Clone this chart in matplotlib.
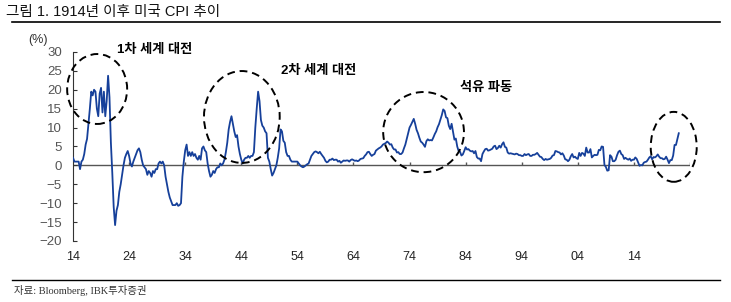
import numpy as np
import matplotlib
matplotlib.use("Agg")
import matplotlib.pyplot as plt
from matplotlib.patches import Ellipse

plt.rcParams['font.family'] = ['Liberation Sans', 'Noto Sans CJK KR']

# US CPI YoY (%), quarterly, starting 1914Q1
cpi_yoy = [
    2.0, 1.0, 1.0, 1.0,      # 1914
    1.0, -1.0, 1.0, 1.5,     # 1915
    3.0, 5.5, 7.0, 11.0,     # 1916
    15.0, 19.5, 18.5, 20.0,  # 1917
    19.5, 15.0, 13.0, 19.0,  # 1918
    20.5, 14.0, 19.5, 13.0,  # 1919
    17.0, 23.7, 18.0, 6.0,   # 1920
    -2.0, -11.0, -15.8, -12.0,  # 1921
    -10.5, -7.0, -5.0, -2.5,  # 1922
    0.0, 2.0, 3.0, 3.8,      # 1923
    2.5, 0.5, -0.3, 1.0,     # 1924
    2.0, 3.0, 4.0, 4.5,      # 1925
    3.5, 1.5, 0.0, -0.5,     # 1926
    -1.0, -2.5, -1.5, -2.0,  # 1927
    -3.0, -1.5, -2.0, -1.0,  # 1928
    -1.0, 0.5, 1.0, 0.5,     # 1929
    1.0, 0.0, -3.0, -5.0,    # 1930
    -7.0, -8.5, -9.5, -10.5,  # 1931
    -10.5, -10.5, -10.0, -10.7,  # 1932
    -10.5, -10.0, -3.0, 1.0,  # 1933
    4.0, 5.5, 2.5, 3.5,      # 1934
    2.5, 3.5, 2.5, 3.0,      # 1935
    2.0, 1.5, 2.5, 1.5,      # 1936
    4.5, 5.0, 4.0, 3.5,      # 1937
    0.5, -1.5, -3.0, -2.5,   # 1938
    -1.5, -2.0, -1.0, -0.5,  # 1939
    -0.5, 0.5, 0.0, 0.5,     # 1940
    1.5, 3.5, 6.0, 9.5,      # 1941
    11.5, 13.0, 11.0, 9.0,   # 1942
    7.5, 8.0, 5.0, 3.0,      # 1943
    1.5, 0.5, 1.5, 2.0,      # 1944
    2.0, 2.5, 2.0, 2.5,      # 1945
    2.5, 3.5, 10.0, 15.0,    # 1946
    19.5, 17.0, 12.0, 10.5,  # 1947
    10.0, 9.0, 8.5, 2.0,     # 1948
    1.0, -1.0, -2.7, -2.0,   # 1949
    -1.0, 0.0, 2.0, 4.5,     # 1950
    9.5, 9.0, 6.5, 6.0,      # 1951
    3.5, 2.5, 2.5, 1.5,      # 1952
    1.0, 1.0, 1.0, 1.0,      # 1953
    1.0, 0.5, 0.0, -0.3,     # 1954
    -0.5, -0.3, 0.0, 0.3,    # 1955
    0.5, 1.5, 2.5, 3.0,      # 1956
    3.5, 3.7, 3.5, 3.2,      # 1957
    3.6, 3.0, 2.5, 2.0,      # 1958
    1.2, 0.8, 1.0, 1.5,      # 1959
    1.5, 1.8, 1.4, 1.5,      # 1960
    1.5, 1.0, 1.2, 0.7,      # 1961
    1.0, 1.3, 1.2, 1.3,      # 1962
    1.3, 1.0, 1.4, 1.6,      # 1963
    1.4, 1.2, 1.3, 1.1,      # 1964
    1.3, 1.7, 1.8, 1.9,      # 1965
    2.5, 2.9, 3.5, 3.6,      # 1966
    3.0, 2.5, 2.8, 3.0,      # 1967
    3.9, 4.2, 4.5, 4.7,      # 1968
    5.0, 5.5, 5.7, 5.9,      # 1969
    6.3, 6.0, 5.5, 5.6,      # 1970
    4.7, 4.2, 4.2, 3.4,      # 1971
    3.5, 3.0, 3.0, 3.4,      # 1972
    4.5, 5.5, 7.0, 8.5,      # 1973
    10.0, 10.7, 11.5, 12.3,  # 1974
    11.0, 9.4, 8.5, 7.3,     # 1975
    6.3, 6.0, 5.5, 4.9,      # 1976
    6.4, 6.9, 6.6, 6.7,      # 1977
    6.6, 7.4, 8.3, 9.0,      # 1978
    10.1, 10.9, 12.1, 13.3,  # 1979
    14.8, 14.4, 12.7, 12.5,  # 1980
    10.5, 9.6, 11.0, 8.9,    # 1981
    6.8, 7.1, 5.0, 3.8,      # 1982
    3.6, 2.6, 2.9, 3.8,      # 1983
    4.8, 4.2, 4.3, 3.9,      # 1984
    3.7, 3.8, 3.2, 3.8,      # 1985
    2.2, 1.8, 1.8, 1.1,      # 1986
    3.0, 3.7, 4.3, 4.4,      # 1987
    3.9, 4.0, 4.2, 4.4,      # 1988
    5.0, 5.2, 4.3, 4.6,      # 1989
    5.2, 4.7, 5.6, 6.1,      # 1990
    4.9, 4.7, 3.4, 3.1,      # 1991
    3.2, 3.1, 3.0, 2.9,      # 1992
    3.1, 3.0, 2.7, 2.7,      # 1993
    2.5, 2.5, 3.0, 2.7,      # 1994
    2.9, 3.0, 2.5, 2.5,      # 1995
    2.8, 2.8, 3.0, 3.3,      # 1996
    2.8, 2.3, 2.2, 1.7,      # 1997
    1.4, 1.7, 1.5, 1.6,      # 1998
    1.7, 2.0, 2.6, 2.7,      # 1999
    3.8, 3.7, 3.5, 3.4,      # 2000
    2.9, 3.2, 2.6, 1.6,      # 2001
    1.5, 1.1, 1.5, 2.4,      # 2002
    3.0, 2.1, 2.3, 1.9,      # 2003
    1.7, 3.3, 2.5, 3.3,      # 2004
    3.1, 2.5, 4.7, 3.4,      # 2005
    3.4, 4.3, 2.1, 2.5,      # 2006
    2.8, 2.7, 2.8, 4.1,      # 2007
    4.0, 5.0, 4.9, 0.1,      # 2008
    -0.4, -1.4, -1.3, 2.7,   # 2009
    2.3, 1.1, 1.1, 1.5,      # 2010
    2.7, 3.6, 3.9, 3.0,      # 2011
    2.7, 1.7, 2.0, 1.7,      # 2012
    1.5, 1.8, 1.2, 1.5,      # 2013
    1.5, 2.1, 1.7, 0.8,      # 2014
    -0.1, 0.1, 0.0, 0.7,     # 2015
    0.9, 1.0, 1.5, 2.1,      # 2016
    2.4, 1.6, 2.2, 2.1,      # 2017
    2.4, 2.9, 2.3, 1.9,      # 2018
    1.9, 1.6, 1.7, 2.3,      # 2019
    1.5, 0.6, 1.4, 1.4,      # 2020
    2.6, 5.4, 5.4, 7.0,      # 2021
    8.5,                     # 2022
]
start_year = 1914
tick_years = [1914, 1924, 1934, 1944, 1954, 1964, 1974, 1984, 1994, 2004, 2014]
tick_labels = ['14', '24', '34', '44', '54', '64', '74', '84', '94', '04', '14']

events = ['1차 세계 대전', '2차 세계 대전', '석유 파동']

years = start_year + np.arange(len(cpi_yoy)) * 0.25

fig = plt.figure(figsize=(7.31, 3.02), dpi=100)
ax = fig.add_axes([0.0999, 0.202, 0.844, 0.626])

ax.axhline(0, color='#555555', lw=1.0, zorder=1)
ax.vlines(tick_years[1:] + [2024], 0, 0.9, color='#555555', lw=1.0, zorder=1)
ax.plot(years, cpi_yoy, color='#16409a', lw=1.3, zorder=3)

ax.set_xlim(1914, 2024)
ax.set_ylim(-20, 30)
ax.set_yticks(np.arange(-20, 31, 5))
ax.set_xticks(tick_years)
ax.set_xticklabels(tick_labels)
ax.tick_params(axis='x', length=0, pad=7, labelsize=9, labelcolor='#222222')
ax.tick_params(axis='y', direction='in', length=3, pad=8, labelsize=9.5,
               labelcolor='#555555', color='#333333')
for s in ['top', 'right', 'bottom']:
    ax.spines[s].set_visible(False)
ax.spines['left'].set_color('#333333')

# dashed circles around the episodes
circles = [(1918.3, 20.2, 10.7, 18.5), (1944.1, 12.8, 13.5, 24.3),
           (1976.5, 8.8, 14.4, 21.2), (2021.1, 4.9, 8.2, 18.5)]
for cx, cy, w, h in circles:
    ax.add_patch(Ellipse((cx, cy), w, h, fill=False, ec='black', lw=1.4,
                         ls=(0, (4, 2.5)), clip_on=False, zorder=4))

ax.text(1928.5, 30.5, events[0], fontsize=9.5, fontweight='bold', ha='center', va='center')
ax.text(1957.7, 25.0, events[1], fontsize=9.5, fontweight='bold', ha='center', va='center')
ax.text(1987.6, 20.5, events[2], fontsize=9.5, fontweight='bold', ha='center', va='center')

fig.text(38 / 731, 1 - 40 / 302, '(%)', fontsize=9, color='#333333', ha='center', va='center')
fig.text(6 / 731, 1 - 12 / 302, '그림 1. 1914년 이후 미국 CPI 추이', fontsize=10.5,
         ha='left', va='center', color='#111111')
fig.add_artist(plt.Line2D([12 / 731, 720 / 731], [1 - 22 / 302] * 2, color='black', lw=1.2))
fig.add_artist(plt.Line2D([12 / 731, 720 / 731], [1 - 280 / 302] * 2, color='black', lw=1.0))
fig.text(14 / 731, 1 - 291 / 302, '자료: Bloomberg, IBK투자증권', fontsize=7.5,
         family=['Liberation Serif', 'Noto Sans CJK KR'], ha='left', va='center', color='#333333')

plt.savefig('out.png', dpi=100)
